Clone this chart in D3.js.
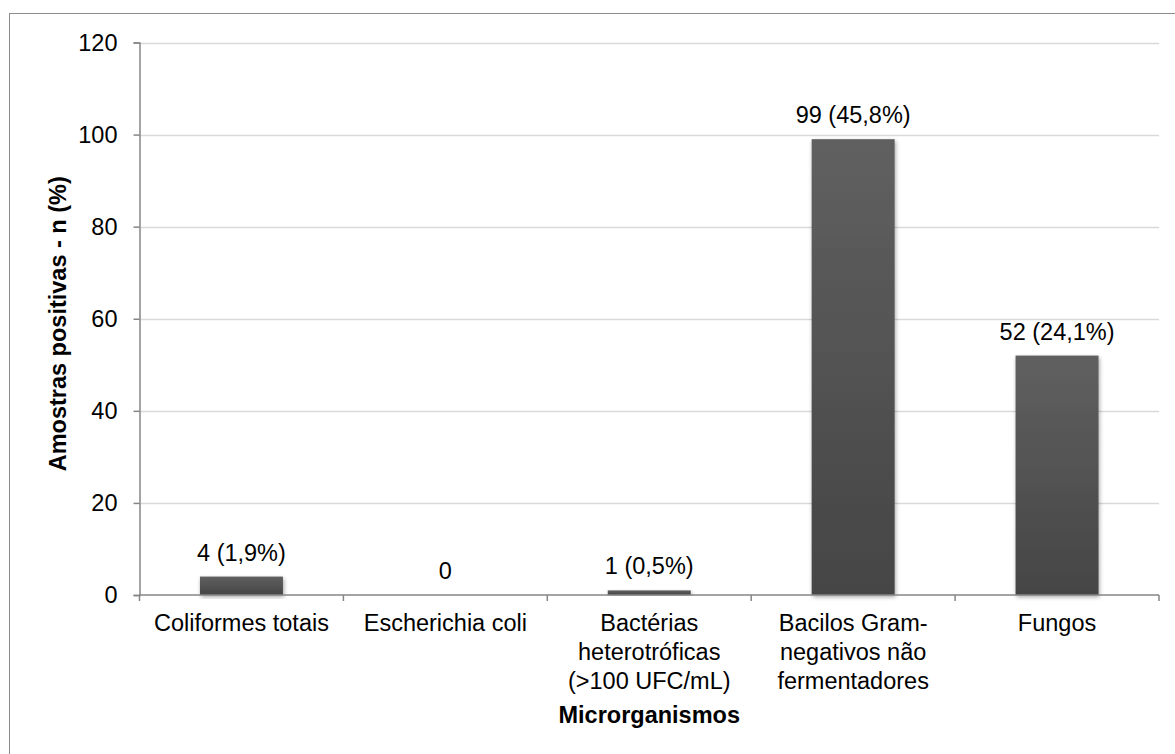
<!DOCTYPE html>
<html><head><meta charset="utf-8">
<script src="https://cdn.jsdelivr.net/npm/d3@7/dist/d3.min.js"></script>
<style>
html,body{margin:0;padding:0;background:#fff;}
text{font-family:"Liberation Sans",Arial,sans-serif;fill:#000;}
</style></head>
<body>
<svg id="chart" width="1175" height="754"></svg>
<script>
const categories = [
  ["Coliformes totais"],
  ["Escherichia coli"],
  ["Bactérias", "heterotróficas", "(>100 UFC/mL)"],
  ["Bacilos Gram-", "negativos não", "fermentadores"],
  ["Fungos"]
];
const values = [4, 0, 1, 99, 52];
const labels = ["4 (1,9%)", "0", "1 (0,5%)", "99 (45,8%)", "52 (24,1%)"];
const yTicks = [0, 20, 40, 60, 80, 100, 120];
const yTitle = "Amostras positivas - n (%)";
const xTitle = "Microrganismos";

(function(){
const svg = d3.select("#chart");
const pL = 139.5, pR = 1159, pT = 42.5, pB = 595;
const FS = "23.5px";

const defs = svg.append("defs");
const grad = defs.append("linearGradient").attr("id","barGrad").attr("x1",0).attr("y1",0).attr("x2",0).attr("y2",1);
grad.append("stop").attr("offset","0%").attr("stop-color","#606060");
grad.append("stop").attr("offset","100%").attr("stop-color","#454545");
const f = defs.append("filter").attr("id","shadow").attr("x","-20%").attr("y","-20%").attr("width","140%").attr("height","140%");
f.append("feDropShadow").attr("dx",1).attr("dy",2).attr("stdDeviation",2.2).attr("flood-color","#000").attr("flood-opacity",0.35);

// outer border (only top/left visible)
svg.append("rect").attr("x",9.5).attr("y",13.5).attr("width",1300).attr("height",900)
  .attr("fill","none").attr("stroke","#8c8c8c").attr("stroke-width",1);

const x = d3.scaleBand().domain(d3.range(categories.length)).range([pL, pR]).paddingInner(0).paddingOuter(0);
const y = d3.scaleLinear().domain([0,120]).range([pB, pT]);

// gridlines
svg.append("g").selectAll("line").data(yTicks.filter(d=>d>0)).join("line")
  .attr("x1", pL).attr("x2", pR)
  .attr("y1", d=>Math.round(y(d))+0.5).attr("y2", d=>Math.round(y(d))+0.5)
  .attr("stroke","#d9d9d9").attr("stroke-width",1.5);

// y axis
const yAxis = svg.append("g").attr("transform",`translate(${pL},0)`)
  .call(d3.axisLeft(y).tickValues(yTicks).tickSize(6).tickPadding(16));
yAxis.select(".domain").attr("stroke","#868686").attr("stroke-width",1.5);
yAxis.selectAll(".tick line").attr("stroke","#868686").attr("stroke-width",1.5);
yAxis.selectAll(".tick text").attr("font-size",FS).attr("font-family","'Liberation Sans',Arial,sans-serif").attr("fill","#000");

// bars
const bw = 83;
svg.append("g").selectAll("rect").data(values).join("rect")
  .attr("x",(d,i)=>x(i)+x.bandwidth()/2-bw/2)
  .attr("y",d=>y(d))
  .attr("width",bw)
  .attr("height",d=>y(0)-y(d))
  .attr("fill","url(#barGrad)")
  .attr("filter","url(#shadow)");

// x axis
const xAxis = svg.append("g").attr("transform",`translate(0,${pB})`);
xAxis.append("line").attr("x1",pL).attr("x2",pR).attr("y1",0).attr("y2",0).attr("stroke","#868686").attr("stroke-width",1.5);
xAxis.selectAll("line.t").data(d3.range(categories.length+1)).join("line").attr("class","t")
  .attr("x1",i=>i<categories.length? x(i): pR).attr("x2",i=>i<categories.length? x(i): pR)
  .attr("y1",0).attr("y2",6).attr("stroke","#868686").attr("stroke-width",1.5);

// category labels
const cl = svg.append("g").selectAll("text").data(categories).join("text")
  .attr("x",(d,i)=>x(i)+x.bandwidth()/2)
  .attr("y",631)
  .attr("text-anchor","middle").attr("font-size",FS);
cl.each(function(lines){
  const t = d3.select(this);
  lines.forEach((ln,k)=>{
    t.append("tspan").attr("x",t.attr("x")).attr("dy",k===0?0:"29px").text(ln);
  });
});

// data labels
svg.append("g").selectAll("text").data(values).join("text")
  .attr("x",(d,i)=>x(i)+x.bandwidth()/2)
  .attr("y",d=>y(d)-16)
  .attr("text-anchor","middle").attr("font-size",FS)
  .text((d,i)=>labels[i]);

// axis titles
svg.append("text").attr("x",(pL+pR)/2).attr("y",723)
  .attr("text-anchor","middle").attr("font-size",FS).attr("font-weight","bold").text(xTitle);
svg.append("text").attr("transform",`translate(66,${(pT+pB)/2+5}) rotate(-90)`)
  .attr("text-anchor","middle").attr("font-size",FS).attr("font-weight","bold").text(yTitle);
})();
</script>
</body></html>
